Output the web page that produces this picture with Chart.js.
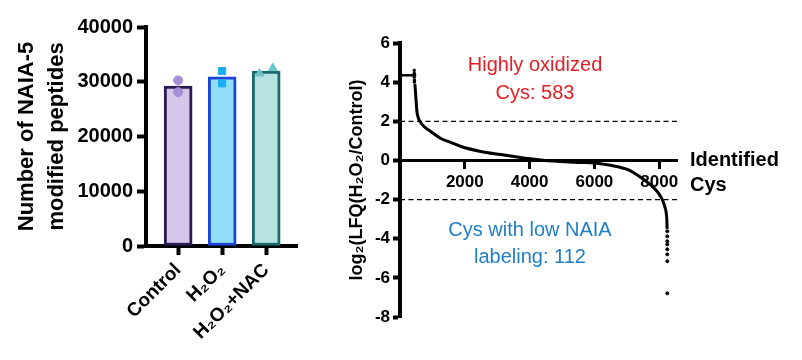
<!DOCTYPE html>
<html>
<head>
<meta charset="utf-8">
<script src="https://cdn.jsdelivr.net/npm/chart.js@4.4.1/dist/chart.umd.min.js"></script>
<style>
  body { margin: 0; background: #fff; }
  #wrap { position: relative; width: 802px; height: 360px; }
  #left { position: absolute; left: 0; top: 0; }
  #right { position: absolute; left: 320px; top: 0; }
</style>
</head>
<body>
<div id="wrap">
  <canvas id="left" width="320" height="360"></canvas>
  <canvas id="right" width="482" height="360"></canvas>
</div>
<script>
// left panel: peptide counts
const groups = ['Control', 'H₂O₂', 'H₂O₂+NAC'];
const peptideMeans = [29200, 30900, 31950];
const controlReps = [30250, 28100];
const h2o2Reps = [31950, 29700];
const nacReps = [31500, 32500];
const peptideTicks = [0, 10000, 20000, 30000, 40000];

// right panel: sorted log2 ratios
const rankX = [460, 490, 523, 560, 615, 740, 950, 1260, 1570, 1880, 2490, 3110, 3720, 4030, 4490, 4950, 5500, 6000, 6500, 7015, 7460, 7770, 8030, 8180, 8235, 8246];
const log2Ratio = [3.9, 3.2, 2.5, 2.2, 2.0, 1.73, 1.48, 1.12, 0.92, 0.71, 0.46, 0.3, 0.15, 0.08, 0.0, -0.05, -0.1, -0.13, -0.25, -0.46, -0.9, -1.3, -1.8, -2.4, -3.0, -3.5];
const cappedX = [0, 500];
const cappedY = [4.35, 4.35];
const topTailX = [440, 440, 442, 444, 446];
const topTailY = [4.6, 4.45, 4.25, 4.1, 4.0];
const bottomTailX = [8250, 8250, 8250, 8250, 8250, 8250, 8250, 8250];
const bottomTailY = [-3.62, -3.88, -4.13, -4.29, -4.54, -4.8, -5.15, -6.79];
const cysTicks = [2000, 4000, 6000, 8000];
const ratioTicks = [-8, -6, -4, -2, 0, 2, 4, 6];
const thresholds = [2, -2];
const highlyOxidized = 583;
const lowLabeling = 112;

Chart.defaults.font.family = "'Liberation Sans', Arial, sans-serif";
Chart.defaults.color = '#000';

function pts(xs, ys) {
    return xs.map((x, i) => ({ x: x, y: ys[i] }));
}

// ---- left chart ----
var ctxL = document.getElementById('left').getContext('2d');
var barChart = new Chart(ctxL, {
    type: 'bar',
    data: {
        datasets: [{
            type: 'scatter',
            data: controlReps.map(v => ({ x: 1, y: v })),
            pointStyle: 'circle',
            pointRadius: 4.5,
            backgroundColor: '#a68fd6',
            borderColor: '#a68fd6',
            order: 1
        }, {
            type: 'scatter',
            data: h2o2Reps.map(v => ({ x: 2, y: v })),
            pointStyle: 'rect',
            pointRadius: 5,
            backgroundColor: '#1aaef0',
            borderColor: '#1aaef0',
            order: 1
        }, {
            type: 'scatter',
            data: nacReps.map((v, i) => ({ x: i == 0 ? 2.85 : 3.15, y: v })),
            pointStyle: 'triangle',
            pointRadius: 5,
            backgroundColor: '#6cc6c8',
            borderColor: '#6cc6c8',
            order: 1
        }, {
            data: peptideMeans.map((v, i) => ({ x: i + 1, y: v })),
            backgroundColor: ['#d5c7ea', '#90def8', '#b6e2e2'],
            borderColor: ['#2a1c50', '#1a45d8', '#1c6a6e'],
            borderWidth: 3,
            borderSkipped: false,
            barThickness: 28,
            order: 2
        }]
    },
    options: {
        responsive: false,
        animation: false,
        layout: { padding: { left: 0, top: 27, right: 23, bottom: 0 } },
        plugins: { legend: { display: false }, tooltip: { enabled: false } },
        scales: {
            x: {
                type: 'linear',
                offset: false,
                min: 0.27,
                max: 3.7,
                afterBuildTicks: s => { s.ticks = [1, 2, 3].map(v => ({ value: v })); },
                afterFit: s => { s.height = 114; },
                grid: { offset: false, drawOnChartArea: false, tickLength: 9, tickWidth: 4, tickColor: '#000' },
                border: { color: '#000', width: 4 },
                ticks: {
                    autoSkip: false,
                    minRotation: 45,
                    maxRotation: 45,
                    padding: 4,
                    font: { size: 19, weight: 'bold' },
                    callback: v => groups[v - 1]
                }
            },
            y: {
                min: 0,
                max: 40000,
                afterBuildTicks: s => { s.ticks = peptideTicks.map(v => ({ value: v })); },
                afterFit: s => { s.width = 146; },
                grid: { drawOnChartArea: false, tickLength: 9, tickWidth: 4, tickColor: '#000' },
                border: { color: '#000', width: 4 },
                ticks: { padding: 4, font: { size: 20, weight: 'bold' }, callback: v => String(v) },
                title: {
                    display: true,
                    text: ['Number of NAIA-5', 'modified peptides'],
                    font: { size: 22, weight: 'bold', lineHeight: 1.36 },
                    padding: { top: 12, bottom: 0 }
                }
            }
        }
    }
});

// ---- right chart ----
const notes = {
    id: 'notes',
    afterDraw(chart) {
        const c = chart.ctx;
        c.save();
        c.textBaseline = 'middle';
        c.textAlign = 'center';
        c.font = "20px 'Liberation Sans', Arial, sans-serif";
        c.fillStyle = '#e41e26';
        c.fillText('Highly oxidized', 215, 65);
        c.fillText('Cys: ' + highlyOxidized, 215, 93);
        c.fillStyle = '#1e7ec6';
        c.fillText('Cys with low NAIA', 210, 230);
        c.fillText('labeling: ' + lowLabeling, 210, 257);
        c.textAlign = 'left';
        c.fillStyle = '#000';
        c.font = "bold 20px 'Liberation Sans', Arial, sans-serif";
        c.fillText('Identified', 370, 160);
        c.fillText('Cys', 370, 185);
        c.restore();
    }
};

var ctxR = document.getElementById('right').getContext('2d');
var curveChart = new Chart(ctxR, {
    type: 'line',
    data: {
        datasets: [{
            data: pts(rankX, log2Ratio),
            borderColor: '#000',
            borderWidth: 3,
            pointRadius: 0,
            cubicInterpolationMode: 'monotone'
        }, {
            data: pts(cappedX, cappedY),
            borderColor: '#000',
            borderWidth: 2.5,
            pointRadius: 0
        }, {
            data: pts(topTailX, topTailY),
            showLine: false,
            pointRadius: 1.3,
            backgroundColor: '#000',
            borderColor: '#000'
        }, {
            data: pts(bottomTailX, bottomTailY),
            showLine: false,
            pointRadius: 1.5,
            backgroundColor: '#000',
            borderColor: '#000'
        }].concat(thresholds.map(t => ({
            data: [{ x: 0, y: t }, { x: 8550, y: t }],
            borderColor: '#000',
            borderWidth: 1.3,
            borderDash: [5, 3.5],
            pointRadius: 0
        })))
    },
    options: {
        responsive: false,
        animation: false,
        layout: { padding: { left: 0, top: 43, right: 125, bottom: 43 } },
        plugins: { legend: { display: false }, tooltip: { enabled: false } },
        scales: {
            x: {
                type: 'linear',
                min: 0,
                max: 8550,
                position: { y: 0 },
                afterBuildTicks: s => { s.ticks = cysTicks.map(v => ({ value: v })); },
                grid: { drawOnChartArea: false, tickLength: 7, tickWidth: 3, tickColor: '#000' },
                border: { color: '#000', width: 3 },
                ticks: { padding: 5, maxRotation: 0, font: { size: 17, weight: 'bold' }, callback: v => String(v) }
            },
            y: {
                min: -8,
                max: 6,
                afterBuildTicks: s => { s.ticks = ratioTicks.map(v => ({ value: v })); },
                afterFit: s => { s.width = 80; },
                grid: { drawOnChartArea: false, tickLength: 7, tickWidth: 4, tickColor: '#000' },
                border: { color: '#000', width: 4 },
                ticks: { padding: 3, font: { size: 17, weight: 'bold' } },
                title: {
                    display: true,
                    text: 'log₂(LFQ(H₂O₂/Control)',
                    font: { size: 18, weight: 'bold' },
                    padding: { top: 26, bottom: 0 }
                }
            }
        }
    },
    plugins: [notes]
});
</script>
</body>
</html>
